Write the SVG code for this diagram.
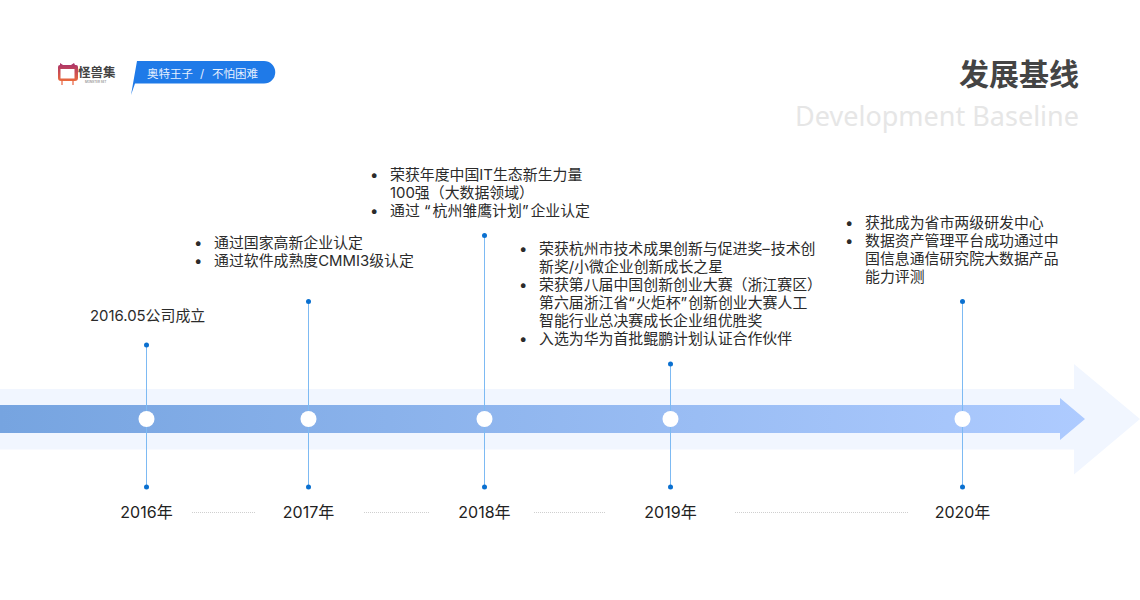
<svg xmlns="http://www.w3.org/2000/svg" width="1140" height="600" viewBox="0 0 1140 600">
<defs>
<linearGradient id="band" gradientUnits="userSpaceOnUse" x1="0" y1="0" x2="1086" y2="0"><stop offset="0" stop-color="#76a4e0"/><stop offset="1" stop-color="#aecbff"/></linearGradient>
<linearGradient id="logo" x1="0" y1="0" x2="0" y2="1"><stop offset="0" stop-color="#a8306c"/><stop offset="1" stop-color="#ea6a3c"/></linearGradient>
</defs>
<style>
text{font-family:"Inter","Noto Sans CJK SC",sans-serif;}
.b{font-size:14.900px;fill:#2b2b2b;}
.y{font-size:16px;fill:#222;text-anchor:middle;}
.stem{stroke:#7dbaf3;stroke-width:1;fill:none;}
.dot{fill:#0a70d0;}
.hub{fill:#fff;}
.sep{stroke:#cfcfcf;stroke-width:1;stroke-dasharray:1 1;fill:none;}
</style>
<rect width="1140" height="600" fill="#fff"/>
<g id="header">
<path d="M60 63l3 2h8l3-2 1 2h1a2 2 0 0 1 2 2v11a3 3 0 0 1-3 3H61a3 3 0 0 1-3-3V67a2 2 0 0 1 2-2Z" fill="url(#logo)"/>
<rect x="60.500" y="69" width="14" height="9.500" fill="#fff"/>
<path d="M62 81v4M73 81v4" stroke="#e8603f" stroke-width="1.200"/>
<text x="78" y="77" font-size="12.500" font-weight="700" fill="#444">怪兽集</text>
<text x="85" y="82.500" font-size="3" fill="#666">MONSTER SET</text>
<path d="M137 61H264a11 11 0 0 1 0 22.500H135L131 95Z" fill="#1f7ae8"/>
<text y="78" font-size="11.500" fill="#e6f0ff"><tspan x="147">奥特王子</tspan><tspan x="200">/</tspan><tspan x="212">不怕困难</tspan></text>
<text x="1079" y="85" font-size="30" font-weight="700" fill="#444" text-anchor="end">发展基线</text>
<text x="1079" y="126" font-size="27" fill="#e6e6e6" text-anchor="end" style="font-family:'Noto Sans',sans-serif">Development Baseline</text>
</g>
<g id="arrow">
<path d="M0 389H1074V364L1140 419 1074 474.500V449.500H0Z" fill="#f1f6ff"/>
<path d="M0 405H1060V398L1085 419 1060 440V433H0Z" fill="url(#band)"/>
</g>
<g id="connectors">
<path class="stem" d="M146.500 345V487M308.500 301V487M484.500 235V487M670.500 364V487M962.500 301V487"/>
<path class="sep" d="M192 512.500H256M364 512.500H429M534 512.500H606M735 512.500H908"/>
</g>
<g id="node-2016"><circle class="dot" cx="146.500" cy="345" r="2.500"/><circle class="hub" cx="146.500" cy="419" r="8"/><circle class="dot" cx="146.500" cy="487" r="2.500"/>
<text class="y" x="146.500" y="518">2016年</text><text class="b" x="90" y="321">2016.05公司成立</text></g>
<g id="node-2017"><circle class="dot" cx="308.500" cy="301.500" r="2.500"/><circle class="hub" cx="308.500" cy="419" r="8"/><circle class="dot" cx="308.500" cy="487" r="2.500"/>
<text class="y" x="308.500" y="518">2017年</text>
<text class="b" x="194" y="248">•</text><text class="b" x="214" y="248">通过国家高新企业认定</text>
<text class="b" x="194" y="266">•</text><text class="b" x="214" y="266">通过软件成熟度CMMI3级认定</text></g>
<g id="node-2018"><circle class="dot" cx="484.500" cy="235.500" r="2.500"/><circle class="hub" cx="484.500" cy="419" r="8"/><circle class="dot" cx="484.500" cy="487" r="2.500"/>
<text class="y" x="484.500" y="518">2018年</text>
<text class="b" x="370" y="180">•</text><text class="b" x="390" y="180">荣获年度中国IT生态新生力量</text>
<text class="b" x="390" y="198">100强（大数据领域）</text>
<text class="b" x="370" y="216">•</text><text class="b" x="390" y="216">通过 “<tspan dx="2">杭州雏鹰计划”</tspan><tspan dx="2">企业认定</tspan></text></g>
<g id="node-2019"><circle class="dot" cx="670.500" cy="364" r="2.500"/><circle class="hub" cx="670.500" cy="419" r="8"/><circle class="dot" cx="670.500" cy="487" r="2.500"/>
<text class="y" x="670.500" y="518">2019年</text>
<text class="b" x="519" y="254">•</text><text class="b" x="539" y="254">荣获杭州市技术成果创新与促进奖–<tspan dx="1">技术创</tspan></text>
<text class="b" x="539" y="272">新奖/小微企业创新成长之星</text>
<text class="b" x="519" y="290">•</text><text class="b" x="539" y="290">荣获第八届中国创新创业大赛（浙江赛区）</text>
<text class="b" x="539" y="308">第六届浙江省“<tspan dx="1">火炬杯”</tspan><tspan dx="1">创新创业大赛人工</tspan></text>
<text class="b" x="539" y="326">智能行业总决赛成长企业组优胜奖</text>
<text class="b" x="519" y="344">•</text><text class="b" x="539" y="344">入选为华为首批鲲鹏计划认证合作伙伴</text></g>
<g id="node-2020"><circle class="dot" cx="962.500" cy="301.500" r="2.500"/><circle class="hub" cx="962.500" cy="419" r="8"/><circle class="dot" cx="962.500" cy="487" r="2.500"/>
<text class="y" x="962.500" y="518">2020年</text>
<text class="b" x="845" y="228">•</text><text class="b" x="865" y="228">获批成为省市两级研发中心</text>
<text class="b" x="845" y="246">•</text><text class="b" x="865" y="246">数据资产管理平台成功通过中</text>
<text class="b" x="865" y="264">国信息通信研究院大数据产品</text>
<text class="b" x="865" y="282">能力评测</text></g>
</svg>
